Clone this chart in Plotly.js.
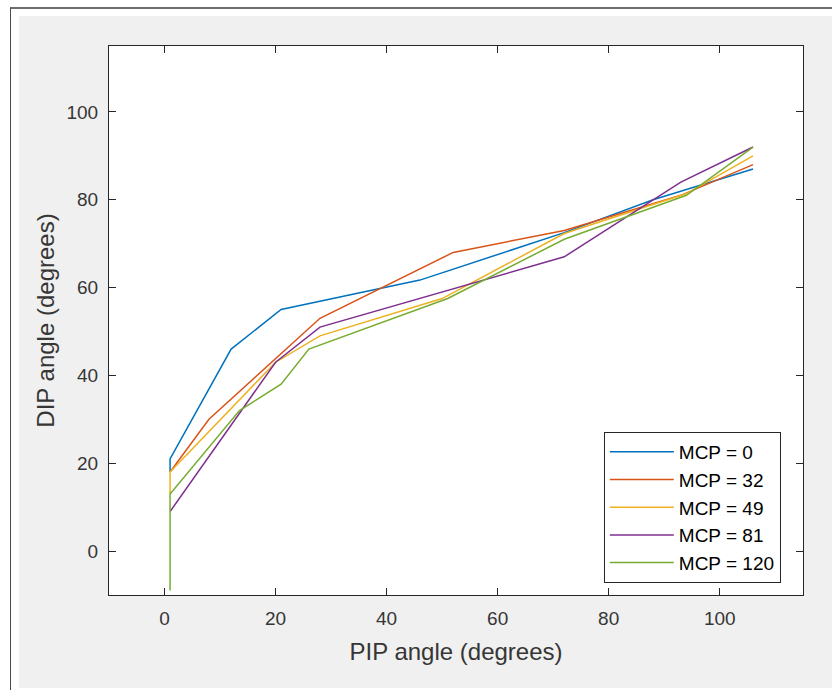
<!DOCTYPE html>
<html>
<head>
<meta charset="utf-8">
<script src="https://cdn.plot.ly/plotly-3.0.1.min.js"></script>
<style>
  html, body { margin: 0; padding: 0; background: #ffffff; width: 832px; height: 690px; overflow: hidden; }
  #frame { position: absolute; left: 10px; top: 7px; width: 822px; height: 683px;
           border-top: 2px solid #6e6e6e; border-left: 1px solid #4a4a4a; box-sizing: border-box; }
  #chart { position: absolute; left: 19px; top: 16px; width: 813px; height: 672px; }
</style>
</head>
<body>
<div id="frame"></div>
<div id="chart"></div>
<script>
// PIP angle (x) and DIP angle (y) for each MCP setting
const seriesNames = ["MCP = 0", "MCP = 32", "MCP = 49", "MCP = 81", "MCP = 120"];
const pip0   = [1, 1, 12, 21, 46, 72, 88, 106];
const dip0   = [18, 21, 46, 55, 61.7, 72.5, 80, 87];
const pip32  = [1, 8, 28, 52, 72, 93, 106];
const dip32  = [18, 30, 53, 68, 73, 81, 88];
const pip49  = [1, 1, 20, 28, 50, 72, 94, 106];
const dip49  = [13, 18, 43, 49, 57.5, 72.3, 81.4, 90];
const pip81  = [1, 20, 28, 72, 93, 106];
const dip81  = [9, 43, 51, 67, 84, 92];
const pip120 = [1, 1, 13.5, 21, 26, 51, 72, 94, 106];
const dip120 = [-9, 13, 32, 38, 46, 57.5, 71, 81, 92];
const xTicks = [0, 20, 40, 60, 80, 100];
const yTicks = [0, 20, 40, 60, 80, 100];

const colors = ["#0072BD", "#D95319", "#EDB120", "#7E2F8E", "#77AC30"];
const xs = [pip0, pip32, pip49, pip81, pip120];
const ys = [dip0, dip32, dip49, dip81, dip120];

const FONT = 'Arial, "Liberation Sans", Helvetica, sans-serif';
const data = xs.map((x, i) => ({
  type: "scatter", mode: "lines", x: x, y: ys[i], name: seriesNames[i],
  line: { color: colors[i], width: 1.5 }
}));

const axisCommon = {
  showgrid: false, zeroline: false, showline: true, linecolor: "#262626", linewidth: 1,
  mirror: "allticks", ticks: "inside", ticklen: 7, tickcolor: "#262626", tickwidth: 1,
  tickfont: { family: FONT, size: 19, color: "#363636" }, tickmode: "array"
};

const layout = {
  width: 813, height: 672,
  paper_bgcolor: "#f0f0f0", plot_bgcolor: "#ffffff",
  margin: { l: 90, r: 29, t: 30, b: 93 },
  showlegend: true,
  xaxis: Object.assign({}, axisCommon, {
    range: [-10, 115], tickvals: xTicks, ticktext: xTicks.map(String), ticklabelstandoff: 6,
    title: { text: "PIP angle (degrees)", font: { family: FONT, size: 24, color: "#363636" }, standoff: 15 }
  }),
  yaxis: Object.assign({}, axisCommon, {
    range: [-10, 115], tickvals: yTicks, ticktext: yTicks.map(String), ticklabelstandoff: 6,
    title: { text: "DIP angle (degrees)", font: { family: FONT, size: 24, color: "#363636" }, standoff: 5 }
  }),
  legend: {
    x: 0.713, y: 0.297, xanchor: "left", yanchor: "top", itemwidth: 64,
    bgcolor: "#ffffff", bordercolor: "#262626", borderwidth: 1,
    font: { family: FONT, size: 19, color: "#000000" }
  }
};

Plotly.newPlot("chart", data, layout, { displayModeBar: false, staticPlot: true });
</script>
</body>
</html>
